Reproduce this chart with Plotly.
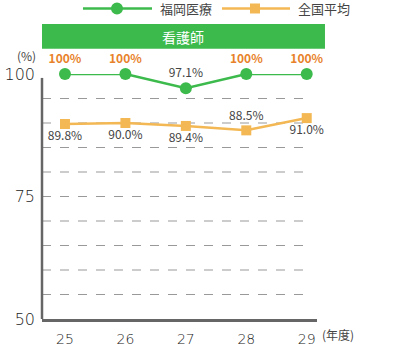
import plotly.graph_objects as go

years = [25, 26, 27, 28, 29]
fukuoka = [100, 100, 97.1, 100, 100]
national = [89.8, 90.0, 89.4, 88.5, 91.0]
national_pos = ["bottom center", "bottom center", "bottom center", "top center", "bottom center"]
y_ticks = [50, 75, 100]
grid_vals = [55, 60, 65, 70, 75, 80, 85, 90, 95]
series_names = ["福岡医療", "全国平均"]

GREEN = "#3cba4c"
ORANGE = "#f3b854"
LABEL_OR = "#e8822a"
FONT = "Noto Sans CJK JP"
TICKFONT = "DejaVu Sans"

def fk_label(v):
    return "<b>%d%%</b>" % v if v == 100 else "%.1f%%" % v

fig = go.Figure()
fig.add_trace(go.Scatter(
    x=years, y=fukuoka, name=series_names[0], mode="lines+markers+text",
    line=dict(color=GREEN, width=2.5),
    marker=dict(symbol="circle", size=12, color=GREEN),
    text=[fk_label(v) for v in fukuoka], textposition="top center",
    textfont=dict(size=12, color=[LABEL_OR if v == 100 else "#444" for v in fukuoka], family=FONT),
    cliponaxis=False, showlegend=False,
))
fig.add_trace(go.Scatter(
    x=years, y=national, name=series_names[1], mode="lines+markers+text",
    line=dict(color=ORANGE, width=2.5),
    marker=dict(symbol="square", size=10, color=ORANGE),
    text=["%.1f%%" % v for v in national], textposition=national_pos,
    textfont=dict(size=12, color="#444", family=FONT),
    cliponaxis=False, showlegend=False,
))

x_range = [24.62, 29.17]
shapes = []
for g in grid_vals:
    shapes.append(dict(type="line", xref="x", yref="y", x0=x_range[0], x1=years[-1], y0=g, y1=g,
                       line=dict(color="#999", width=1, dash="dash"), layer="below"))
shapes.append(dict(type="line", xref="paper", yref="y", x0=0, x1=0, y0=50, y1=99.2,
                   line=dict(color="#666", width=2.5)))
shapes.append(dict(type="rect", xref="paper", yref="paper", x0=0, x1=1.029, y0=1.103, y1=1.204,
                   fillcolor=GREEN, line=dict(width=0)))

# custom legend (line + symbol + label)
LEG_Y = 1.2674
shapes.append(dict(type="line", xref="paper", yref="paper", x0=0.149, x1=0.40, y0=LEG_Y, y1=LEG_Y,
                   line=dict(color=GREEN, width=2.5)))
shapes.append(dict(type="circle", xref="paper", yref="paper", xsizemode="pixel", ysizemode="pixel",
                   xanchor=0.2727, yanchor=LEG_Y, x0=-6, x1=6, y0=-6, y1=6,
                   fillcolor=GREEN, line=dict(width=0)))
shapes.append(dict(type="line", xref="paper", yref="paper", x0=0.6545, x1=0.9018, y0=LEG_Y, y1=LEG_Y,
                   line=dict(color=ORANGE, width=2.5)))
shapes.append(dict(type="rect", xref="paper", yref="paper", xsizemode="pixel", ysizemode="pixel",
                   xanchor=0.7745, yanchor=LEG_Y, x0=-5, x1=5, y0=-5, y1=5,
                   fillcolor=ORANGE, line=dict(width=0)))

annotations = [
    dict(text="看護師", xref="paper", yref="paper", x=0.514, y=1.153, showarrow=False,
         font=dict(color="white", size=14, family=FONT), xanchor="center", yanchor="middle"),
    dict(text="(%)", xref="paper", yref="paper", x=-0.058, y=1.074, showarrow=False, borderpad=0,
         font=dict(color="#444", size=12, family=FONT), xanchor="center", yanchor="middle"),
    dict(text="(年度)", xref="paper", yref="paper", x=1.015, y=-0.065, showarrow=False, borderpad=0,
         font=dict(color="#444", size=12, family=FONT), xanchor="left", yanchor="middle"),
    dict(text=series_names[0], xref="paper", yref="paper", x=0.425, y=LEG_Y, showarrow=False,
         borderpad=0, font=dict(color="#444", size=13, family=FONT), xanchor="left", yanchor="middle"),
    dict(text=series_names[1], xref="paper", yref="paper", x=0.927, y=LEG_Y, showarrow=False,
         borderpad=0, font=dict(color="#444", size=13, family=FONT), xanchor="left", yanchor="middle"),
]

fig.update_layout(
    width=405, height=346,
    margin=dict(l=42, r=88, t=74, b=27),
    paper_bgcolor="white", plot_bgcolor="white",
    font=dict(family=FONT, color="#444"),
    shapes=shapes, annotations=annotations, showlegend=False,
    xaxis=dict(range=x_range, tickvals=years, ticktext=[str(y) for y in years], automargin=False,
               showgrid=False, zeroline=False, showline=True, linecolor="#666", linewidth=2.5,
               ticks="", tickfont=dict(size=14, color="#222", family=TICKFONT, weight=200),
               ticklabelstandoff=5),
    yaxis=dict(range=[50, 100], tickvals=y_ticks, showgrid=False, zeroline=False, automargin=False,
               showline=False, ticks="", tickfont=dict(size=16, color="#222", family=TICKFONT, weight=200),
               ticklabelstandoff=6),
)

fig.write_html("out.html")
